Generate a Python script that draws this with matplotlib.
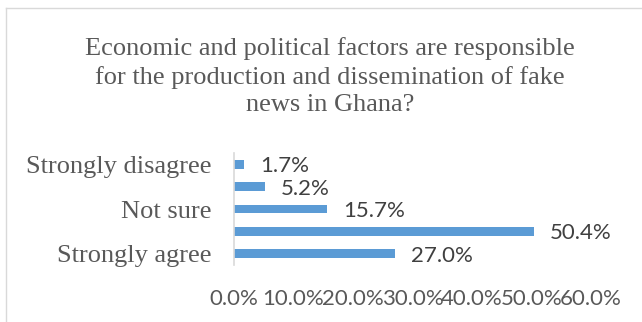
import matplotlib
matplotlib.use("Agg")
import matplotlib.pyplot as plt
from matplotlib.lines import Line2D

categories = ["Strongly disagree", "Disagree", "Not sure", "Agree", "Strongly agree"]
tick_labels = ["Strongly disagree", "", "Not sure", "", "Strongly agree"]
values = [1.7, 5.2, 15.7, 50.4, 27.0]
xticks = [0, 10, 20, 30, 40, 50, 60]
title = "Economic and political factors are responsible\nfor the production and dissemination of fake\nnews in Ghana?"

W, H = 642, 322
fig = plt.figure(figsize=(W / 100, H / 100), dpi=100)
ax = fig.add_axes([234 / W, 1 - 265 / H, (591 - 234) / W, (265 - 153) / H])

ypos = list(range(len(categories)))
ax.barh(ypos, values, height=0.4, color="#5B9BD5")
ax.set_ylim(len(categories) - 0.5, -0.5)
ax.set_xlim(0, 60)
ax.set_yticks(ypos)
ax.set_yticklabels(tick_labels, family="Liberation Serif", fontsize=19, color="#595959")
ax.set_xticks(xticks)
ax.set_xticklabels([f"{t:.1f}%" for t in xticks], family="Lato", fontsize=16, color="#595959")
ax.tick_params(axis="y", length=0, pad=16)
ax.tick_params(axis="x", length=0, pad=17)
for s in ["top", "right", "bottom"]:
    ax.spines[s].set_visible(False)
ax.spines["left"].set_color("#D9D9D9")
ax.spines["left"].set_linewidth(1.2)

for y, v in zip(ypos, values):
    ax.annotate(f"{v:.1f}%", xy=(v, y), xytext=(11.5, -1.5), textcoords="offset points",
                ha="left", va="center", family="Lato", fontsize=16, color="#404040")

fig.text(330 / W, 1 - 37 / H, title, ha="center", va="top", family="Liberation Serif",
         fontsize=19, color="#595959", linespacing=1.32)

fig.add_artist(Line2D([6 / W, 6 / W], [0, 1 - 8 / H], transform=fig.transFigure, color="#D9D9D9", lw=1))
fig.add_artist(Line2D([6 / W, 1], [1 - 8 / H, 1 - 8 / H], transform=fig.transFigure, color="#D9D9D9", lw=1))

fig.savefig("out.png", dpi=100)
